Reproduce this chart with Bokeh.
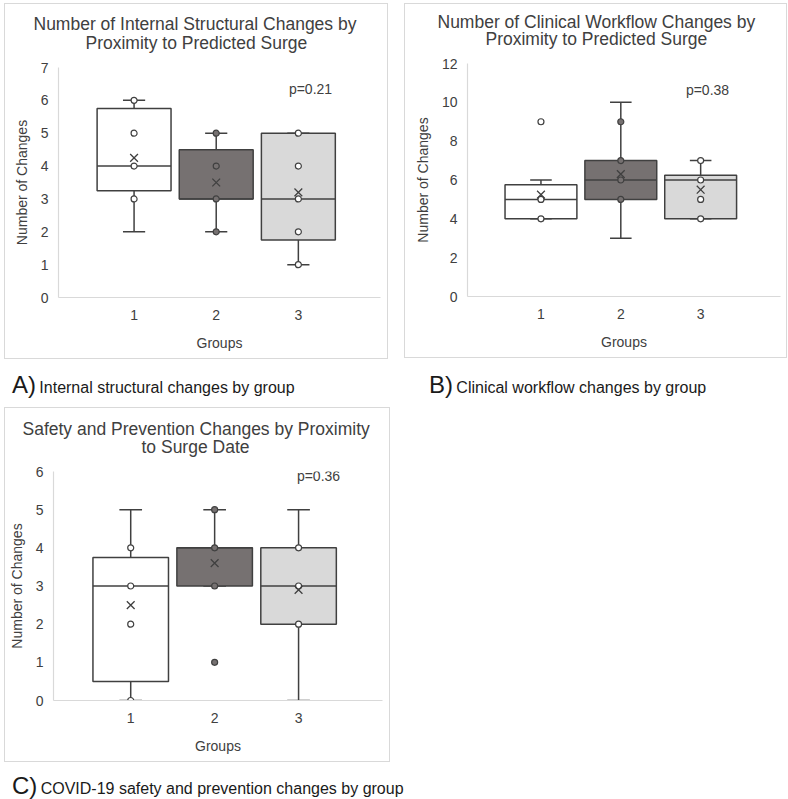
from bokeh.plotting import figure
from bokeh.models import (Range1d, FixedTicker, SingleIntervalTicker, Label, Div, Spacer, Title)
from bokeh.layouts import column, row
from bokeh.embed import file_html
from bokeh.resources import INLINE

# ---------------- data ----------------
groups = [1, 2, 3]
group_labels = ["1", "2", "3"]

# Panel A: internal structural changes
A_title = ["Number of Internal Structural Changes by", "Proximity to Predicted Surge"]
A_p = "p=0.21"
A_lo = [2, 2, 1]
A_q1 = [3.25, 3.0, 1.75]
A_med = [4, 3, 3]
A_q3 = [5.75, 4.5, 5.0]
A_hi = [6, 5, 5]
A_mean = [4.25, 3.5, 3.2]
A_points = [[6, 5, 4, 3], [5, 4, 3, 2], [5, 4, 3, 2, 1]]
A_ymax, A_ystep = 7, 1

# Panel B: clinical workflow changes
B_title = ["Number of Clinical Workflow Changes by", "Proximity to Predicted Surge"]
B_p = "p=0.38"
B_lo = [4, 3, 4]
B_q1 = [4, 5, 4]
B_med = [5, 6, 6]
B_q3 = [5.75, 7, 6.25]
B_hi = [6, 10, 7]
B_mean = [5.25, 6.3, 5.5]
B_points = [[9, 5, 4], [9, 7, 6, 5], [7, 6, 5, 4]]
B_ymax, B_ystep = 12, 2

# Panel C: safety and prevention changes
C_title = ["Safety and Prevention Changes by Proximity", "to Surge Date"]
C_p = "p=0.36"
C_lo = [0, 3, 0]
C_q1 = [0.5, 3, 2]
C_med = [3, 4, 3]
C_q3 = [3.75, 4, 4]
C_hi = [5, 5, 5]
C_mean = [2.5, 3.6, 2.9]
C_points = [[4, 3, 2, 0], [5, 4, 3, 1], [4, 3, 2]]
C_ymax, C_ystep = 6, 1

captions = [("A)", "Internal structural changes by group"),
            ("B)", "Clinical workflow changes by group"),
            ("C)", "COVID-19 safety and prevention changes by group")]

# ---------------- style ----------------
FONT = "Liberation Sans"
TXT = "#404040"
EDGE = "#404040"
AXIS = "#d9d9d9"
box_fills = ["#ffffff", "#767171", "#d9d9d9"]
pt_fills = ["#ffffff", "#767171", "#ffffff"]
BOX_W = 0.9
CAP_W = 0.27


def make_panel(width, height, borders, title, ptxt, lo, q1, med, q3, hi, mean, points,
               ymax, ystep, title_offsets, gap, tight, p_pos):
    bl, br, bt, bb = borders
    p = figure(width=width, height=height, output_backend="svg", toolbar_location=None,
               x_range=Range1d(0.08, 4.0), y_range=Range1d(0, ymax),
               min_border_left=bl, min_border_right=br, min_border_top=bt,
               min_border_bottom=bb, outline_line_color=None,
               background_fill_color="white", border_fill_color="white",
               styles={"border": "1px solid #d9d9d9"})
    p.grid.visible = False
    # whiskers
    p.segment(x0=groups, y0=lo, x1=groups, y1=q1, line_color=EDGE, line_width=1.5)
    p.segment(x0=groups, y0=q3, x1=groups, y1=hi, line_color=EDGE, line_width=1.5)
    cl = [g - CAP_W / 2 for g in groups]
    cr = [g + CAP_W / 2 for g in groups]
    p.segment(x0=cl, y0=lo, x1=cr, y1=lo, line_color=EDGE, line_width=1.5)
    p.segment(x0=cl, y0=hi, x1=cr, y1=hi, line_color=EDGE, line_width=1.5)
    # boxes
    p.quad(left=[g - BOX_W / 2 for g in groups], right=[g + BOX_W / 2 for g in groups],
           bottom=q1, top=q3, fill_color=box_fills, line_color=EDGE, line_width=1.5)
    # medians
    p.segment(x0=[g - BOX_W / 2 for g in groups], y0=med, x1=[g + BOX_W / 2 for g in groups],
              y1=med, line_color=EDGE, line_width=1.5)
    # points
    for g, pts, fc in zip(groups, points, pt_fills):
        p.scatter(x=[g] * len(pts), y=pts, size=6, fill_color=fc, line_color=EDGE,
                  line_width=1.2)
    # means
    p.scatter(x=groups, y=mean, marker="x", size=11, line_color=EDGE, line_width=1.3)

    # axes
    for ax in (p.xaxis[0], p.yaxis[0]):
        ax.axis_line_color = AXIS
        ax.axis_line_width = 1.2
        ax.major_tick_line_color = None
        ax.minor_tick_line_color = None
        ax.major_tick_out = 0
        ax.major_tick_in = 0
        ax.minor_tick_out = 0
        ax.minor_tick_in = 0
        ax.major_label_text_font = FONT
        ax.major_label_text_font_size = "14px"
        ax.major_label_text_color = TXT
        ax.axis_label_text_font = FONT
        ax.axis_label_text_font_size = "14px"
        ax.axis_label_text_font_style = "normal"
        ax.axis_label_text_color = TXT
    p.xaxis.ticker = FixedTicker(ticks=groups)
    p.xaxis.major_label_overrides = {g: s for g, s in zip(groups, group_labels)}
    p.xaxis.axis_label = "Groups"
    p.xaxis.major_label_standoff = 12
    p.xaxis.axis_label_standoff = 12
    p.yaxis.ticker = SingleIntervalTicker(interval=ystep)
    p.yaxis.axis_label = "Number of Changes"
    p.yaxis.major_label_standoff = 10
    p.yaxis.axis_label_standoff = 8

    # titles: spacer (closest to frame), second line, first line
    p.add_layout(Title(text=" ", text_font_size="2px", standoff=gap), "above")
    p.add_layout(Title(text=title[1], align="left", offset=title_offsets[1], standoff=tight,
                       text_font=FONT, text_font_size="17.5px", text_font_style="normal",
                       text_color=TXT), "above")
    p.add_layout(Title(text=title[0], align="left", offset=title_offsets[0], standoff=0,
                       text_font=FONT, text_font_size="17.5px", text_font_style="normal",
                       text_color=TXT), "above")
    p.add_layout(Label(x=p_pos[0], y=p_pos[1], x_units="screen", y_units="screen", text=ptxt,
                       text_align="center", text_baseline="middle", text_font=FONT,
                       text_font_size="14px", text_color=TXT))
    return p


pA = make_panel(384, 356, (53, 9, 63, 63), A_title, A_p, A_lo, A_q1, A_med, A_q3, A_hi,
                A_mean, A_points, A_ymax, A_ystep, (-25, 27), 14, -6, (252, 209))
pB = make_panel(383, 355, (62, 8, 59, 63), B_title, B_p, B_lo, B_q1, B_med, B_q3, B_hi,
                B_mean, B_points, B_ymax, B_ystep, (-30, 18), 16, -10, (240, 207))
pC = make_panel(386, 355, (48, 9, 63, 63), C_title, C_p, C_lo, C_q1, C_med, C_q3, C_hi,
                C_mean, C_points, C_ymax, C_ystep, (-31, 88), 15, -8, (265, 225))


def caption(letter, text, width, height, pad_left, pad_top):
    html = (f'<div style="font-family:\'{FONT}\';color:#1a1a1a;white-space:nowrap;'
            f'padding-left:{pad_left}px;padding-top:{pad_top}px;line-height:24px;">'
            f'<span style="font-size:24px;">{letter}</span> '
            f'<span style="font-size:16px;">{text}</span></div>')
    return Div(text=html, width=width, height=height, margin=(0, 0, 0, 0))


capA = caption(*captions[0], width=400, height=48, pad_left=8, pad_top=14)
capB = caption(*captions[1], width=383, height=48, pad_left=25, pad_top=14)
capC = caption(*captions[2], width=500, height=36, pad_left=8, pad_top=12)

layout = column(
    row(column(pA), Spacer(width=16, height=10), column(pB), spacing=0),
    row(capA, capB, spacing=0),
    pC,
    capC,
    spacing=0,
    margin=(3, 0, 0, 4),
)

open("out.html", "w").write(file_html(layout, INLINE))
